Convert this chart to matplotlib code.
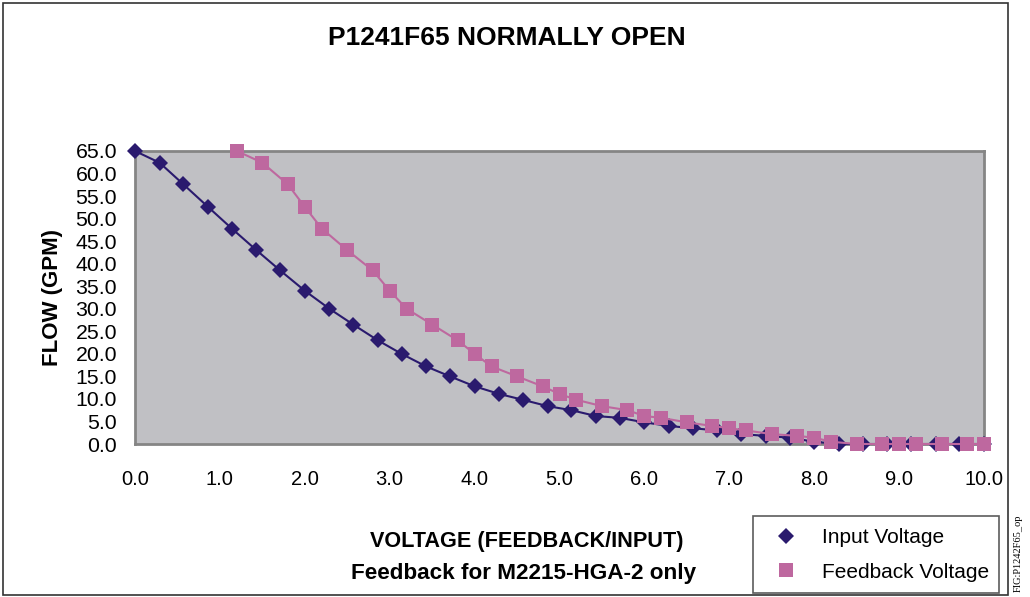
import matplotlib.pyplot as plt
from matplotlib.patches import Rectangle

# flow readings (GPM), shared by both voltage series
flow_gpm = [65.0, 62.4, 57.6, 52.6, 47.8, 43.0, 38.5, 34.0, 30.0, 26.5,
            23.0, 20.0, 17.2, 15.0, 12.8, 11.1, 9.8, 8.4, 7.5, 6.2,
            5.8, 4.8, 4.0, 3.5, 3.0, 2.2, 1.8, 1.4, 0.5, 0.0,
            0.0, 0.0, 0.0, 0.0, 0.0, 0.0]

input_voltage = [0.0, 0.29, 0.57, 0.86, 1.14, 1.43, 1.71, 2.0, 2.29, 2.57,
                 2.86, 3.14, 3.43, 3.71, 4.0, 4.29, 4.57, 4.86, 5.14, 5.43,
                 5.71, 6.0, 6.29, 6.57, 6.86, 7.14, 7.43, 7.71, 8.0, 8.29,
                 8.57, 8.86, 9.14, 9.43, 9.71, 10.0]

feedback_voltage = [1.2, 1.5, 1.8, 2.0, 2.2, 2.5, 2.8, 3.0, 3.2, 3.5,
                    3.8, 4.0, 4.2, 4.5, 4.8, 5.0, 5.2, 5.5, 5.8, 6.0,
                    6.2, 6.5, 6.8, 7.0, 7.2, 7.5, 7.8, 8.0, 8.2, 8.5,
                    8.8, 9.0, 9.2, 9.5, 9.8, 10.0]

x_ticks = [0, 1, 2, 3, 4, 5, 6, 7, 8, 9, 10]
y_ticks = [0, 5, 10, 15, 20, 25, 30, 35, 40, 45, 50, 55, 60, 65]

plt.rcParams['font.family'] = ['Liberation Sans', 'DejaVu Sans']

fig = plt.figure(figsize=(10.30, 5.97), dpi=100)
ax = fig.add_axes([135 / 1030, 1 - 444 / 597, 849 / 1030, 293 / 597])
ax.set_facecolor('#C0C0C4')

ax.plot(input_voltage, flow_gpm, color='#2A1A6E', lw=1.5, marker='D',
        markersize=8.5, markeredgewidth=0, label='Input Voltage',
        clip_on=False, zorder=3)
ax.plot(feedback_voltage, flow_gpm, color='#BE689F', lw=1.5, marker='s',
        markersize=10, markeredgewidth=0, label='Feedback Voltage',
        clip_on=False, zorder=4)

ax.set_xlim(0, 10)
ax.set_ylim(0, 65)
ax.set_xticks(x_ticks)
ax.set_xticklabels(['%.1f' % v for v in x_ticks])
ax.set_yticks(y_ticks)
ax.set_yticklabels(['%.1f' % v for v in y_ticks])
ax.tick_params(length=0, colors='black')
ax.tick_params(axis='x', pad=18.5, labelsize=14.5)
ax.tick_params(axis='y', pad=13, labelsize=15.3)
for s in ax.spines.values():
    s.set_color('#858585')
    s.set_linewidth(2)

ax.set_ylabel('FLOW (GPM)', fontsize=16, fontweight='bold', labelpad=9)

fig.text(507 / 1030, 1 - 38 / 597, 'P1241F65 NORMALLY OPEN', fontsize=19,
         fontweight='bold', ha='center', va='center')
fig.text(527 / 1030, 1 - 541 / 597, 'VOLTAGE (FEEDBACK/INPUT)', fontsize=15.6,
         fontweight='bold', ha='center', va='center')
fig.text(524 / 1030, 1 - 573 / 597, 'Feedback for M2215-HGA-2 only',
         fontsize=16.2, fontweight='bold', ha='center', va='center')
fig.text(1018 / 1030, 1 - 553 / 597, 'FIG:P1242F65_op', fontsize=7.5,
         family='Liberation Serif', rotation=90, ha='center', va='center')

# outer chart border
fig.patches.append(Rectangle((3 / 1030, 2 / 597), 1005 / 1030, 592 / 597,
                             transform=fig.transFigure, fill=False,
                             edgecolor='#333333', lw=1.2))

leg = fig.legend(loc='lower left',
                 bbox_to_anchor=(753 / 1030, 4 / 597, 246 / 1030, 78 / 597),
                 mode='expand', borderaxespad=0, fontsize=15, frameon=True,
                 fancybox=False, edgecolor='#333333', borderpad=0.55,
                 labelspacing=0.75, handlelength=2.1, handletextpad=0.67)
leg.get_frame().set_linewidth(1.2)
for h in leg.legend_handles:
    h.set_linestyle('')

plt.savefig('out.png', dpi=100)
